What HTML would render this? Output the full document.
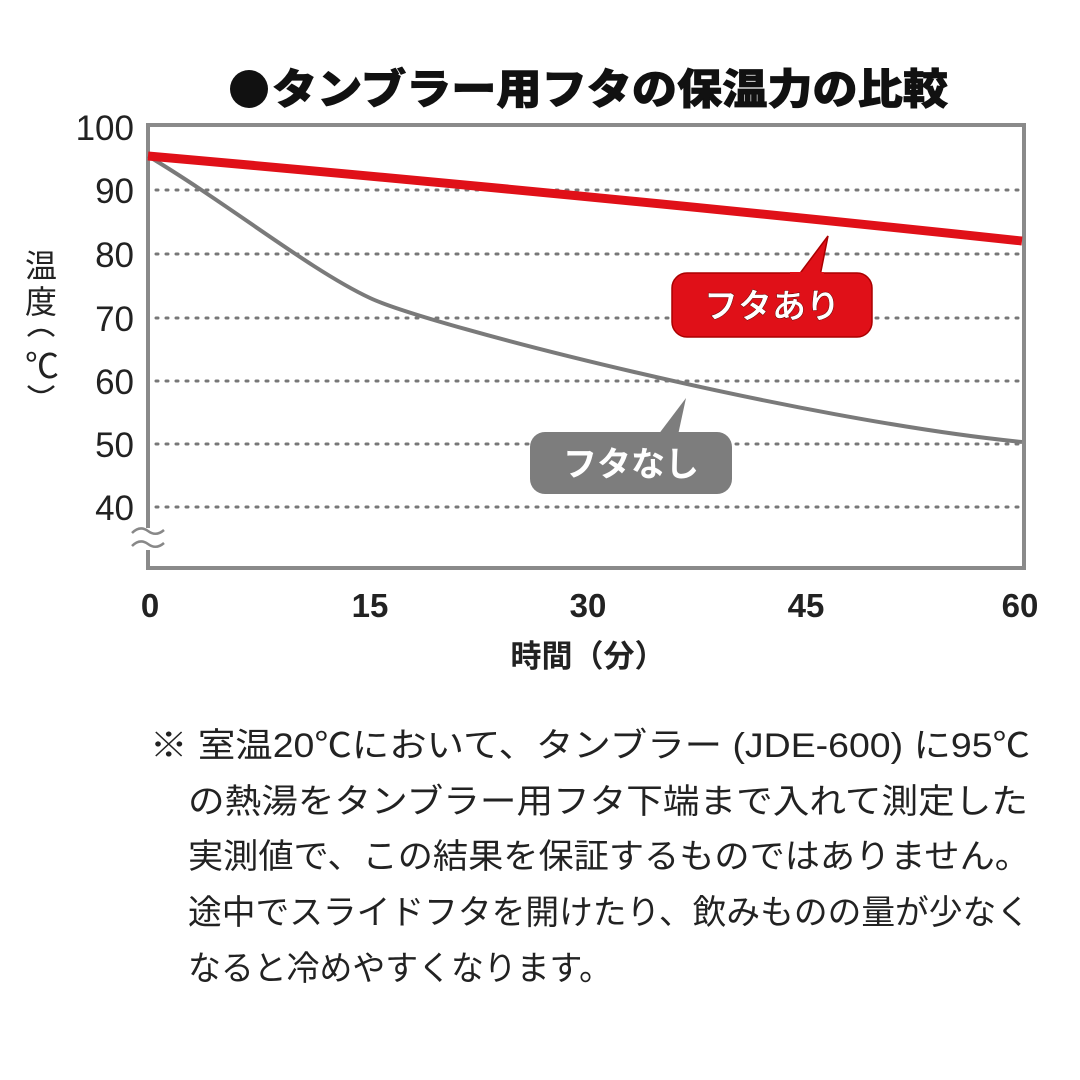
<!DOCTYPE html>
<html><head><meta charset="utf-8"><style>
html,body{margin:0;padding:0;background:#fff;width:1080px;height:1080px;overflow:hidden}
</style></head><body>
<svg width="1080" height="1080" viewBox="0 0 1080 1080" xmlns="http://www.w3.org/2000/svg">
<g font-family="'Liberation Sans','Noto Sans CJK JP',sans-serif">
<circle cx="249" cy="89" r="19" fill="#111"/>
<text x="272" y="104" font-size="42" font-weight="900" fill="#111" textLength="676" lengthAdjust="spacingAndGlyphs" stroke="#111" stroke-width="0.8">タンブラー用フタの保温力の比較</text>
<!-- grid -->
<g stroke="#777" stroke-width="3" stroke-dasharray="2 8" stroke-linecap="round">
<line x1="156" y1="190" x2="1020" y2="190"/>
<line x1="156" y1="254" x2="1020" y2="254"/>
<line x1="156" y1="318" x2="1020" y2="318"/>
<line x1="156" y1="381" x2="1020" y2="381"/>
<line x1="156" y1="444" x2="1020" y2="444"/>
<line x1="156" y1="507" x2="1020" y2="507"/>
</g>
<rect x="148" y="125" width="876" height="443" fill="none" stroke="#8a8a8a" stroke-width="4"/>
<!-- break marks -->
<rect x="138" y="528" width="22" height="22" fill="#fff"/>
<path d="M132 533 Q140 525 148 531 T164 530 M132 546 Q140 538 148 544 T164 543" fill="none" stroke="#888" stroke-width="2.5"/>
<!-- y labels -->
<g font-size="35" fill="#222" text-anchor="end">
<text x="134" y="140">100</text><text x="134" y="203">90</text><text x="134" y="267">80</text>
<text x="134" y="331">70</text><text x="134" y="394">60</text><text x="134" y="457">50</text><text x="134" y="520">40</text>
</g>
<g font-size="33" fill="#222" text-anchor="middle" font-weight="bold">
<text x="150" y="617">0</text><text x="370" y="617">15</text><text x="588" y="617">30</text><text x="806" y="617">45</text><text x="1020" y="617">60</text>
</g>
<text x="588" y="667" font-size="31" font-weight="bold" fill="#222" text-anchor="middle">時間（分）</text>
<g font-size="32" fill="#222" text-anchor="middle">
<text x="41" y="277">温</text>
<text x="41" y="313">度</text>
<text x="42" y="378" font-size="34">℃</text>
</g>
<path d="M28 336 Q41 324 54 336" fill="none" stroke="#222" stroke-width="2.5"/>
<path d="M28 386 Q41 398 54 386" fill="none" stroke="#222" stroke-width="2.5"/>
<!-- series -->
<path d="M148 156 C230 205 310 270 370 298 S 800 420 1022 442" fill="none" stroke="#7a7a7a" stroke-width="4"/>
<path d="M148 156 Q600 196 1022 241" fill="none" stroke="#e01018" stroke-width="9"/>
<!-- callouts -->
<path d="M798 276 L828 236 L820 276 Z" fill="#e01018" stroke="#a00" stroke-width="1.5"/>
<rect x="672" y="273" width="200" height="64" rx="15" fill="#e01018" stroke="#a00" stroke-width="1.5"/>
<rect x="790" y="272" width="34" height="6" fill="#e01018"/>
<text x="772" y="318" font-size="34" font-weight="bold" fill="#fff" text-anchor="middle" stroke="#600" stroke-width="0.5">フタあり</text>
<path d="M658 435 L686 398 L678 435 Z" fill="#7d7d7d"/>
<rect x="530" y="432" width="202" height="62" rx="15" fill="#7d7d7d"/>
<text x="631" y="476" font-size="34" font-weight="bold" fill="#fff" text-anchor="middle">フタなし</text>
<!-- note -->
<g font-size="34" fill="#222">
<text x="150" y="757" textLength="880" lengthAdjust="spacingAndGlyphs">※ 室温20℃において、タンブラー (JDE-600) に95℃</text>
<text x="188" y="813" textLength="840" lengthAdjust="spacingAndGlyphs">の熱湯をタンブラー用フタ下端まで入れて測定した</text>
<text x="188" y="868" textLength="842" lengthAdjust="spacingAndGlyphs">実測値で、この結果を保証するものではありません。</text>
<text x="188" y="924" textLength="842" lengthAdjust="spacingAndGlyphs">途中でスライドフタを開けたり、飲みものの量が少なく</text>
<text x="188" y="980" textLength="424" lengthAdjust="spacingAndGlyphs">なると冷めやすくなります。</text>
</g>
</g>
</svg>
</body></html>
